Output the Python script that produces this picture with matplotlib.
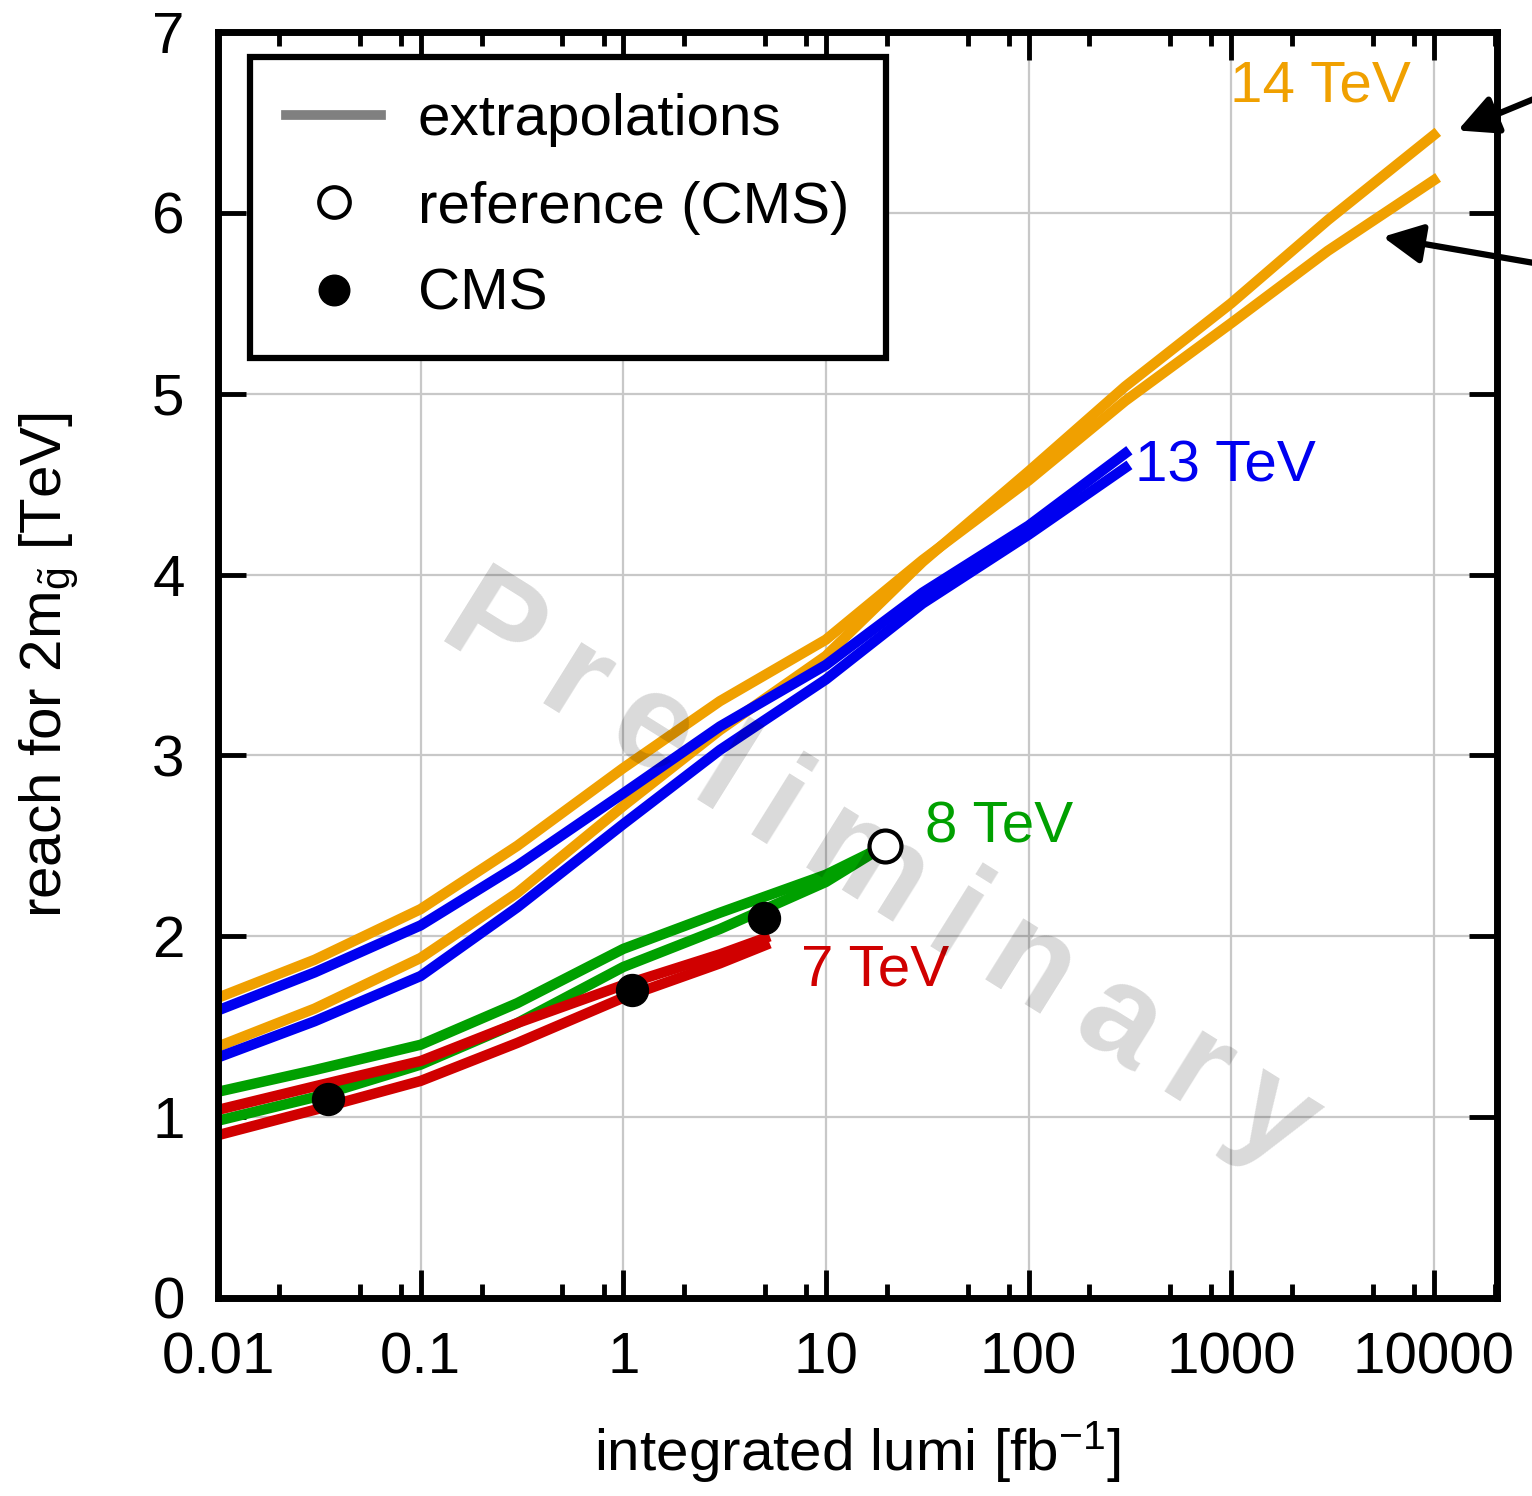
import matplotlib.pyplot as plt
from matplotlib.lines import Line2D

# --- data ---
lumi_14 = [0.01, 0.03, 0.1, 0.3, 1, 3, 10, 30, 100, 300, 1000, 3000, 10000]
reach_14_a = [1.66, 1.87, 2.15, 2.50, 2.93, 3.30, 3.64, 4.08, 4.52, 4.96, 5.39, 5.79, 6.18]
reach_14_b = [1.39, 1.60, 1.88, 2.24, 2.72, 3.14, 3.55, 4.07, 4.57, 5.04, 5.50, 5.96, 6.43]

lumi_13 = [0.01, 0.03, 0.1, 0.3, 1, 3, 10, 30, 100, 300]
reach_13_a = [1.59, 1.80, 2.06, 2.39, 2.79, 3.16, 3.50, 3.90, 4.27, 4.67]
reach_13_b = [1.33, 1.53, 1.78, 2.16, 2.62, 3.03, 3.42, 3.84, 4.22, 4.59]

lumi_8 = [0.01, 0.03, 0.1, 0.3, 1, 3, 10, 19.5]
reach_8_a = [1.14, 1.26, 1.40, 1.63, 1.93, 2.13, 2.34, 2.50]
reach_8_b = [0.98, 1.11, 1.29, 1.52, 1.83, 2.04, 2.30, 2.50]

lumi_7 = [0.01, 0.03, 0.1, 0.3, 1, 3, 5]
reach_7_a = [1.04, 1.17, 1.31, 1.52, 1.73, 1.90, 1.99]
reach_7_b = [0.90, 1.04, 1.20, 1.41, 1.66, 1.85, 1.95]

cms_lumi = [0.035, 1.1, 4.95]
cms_reach = [1.10, 1.70, 2.10]
ref_lumi = [19.5]
ref_reach = [2.50]

plt.rcParams['font.family'] = ['Liberation Sans', 'DejaVu Sans']
plt.rcParams['mathtext.fontset'] = 'custom'
plt.rcParams['mathtext.rm'] = 'Liberation Sans'
plt.rcParams['mathtext.it'] = 'Liberation Sans'

c14, c13, c8, c7 = '#f0a000', '#0000f0', '#00a000', '#d00000'
fs = 42

fig = plt.figure(figsize=(15.32, 14.96), dpi=100)
ax = fig.add_axes([0.1423, 0.1324, 0.8348, 0.8462])

lw = 7.5
ax.plot(lumi_14, reach_14_a, color=c14, lw=lw, zorder=3)
ax.plot(lumi_14, reach_14_b, color=c14, lw=lw, zorder=3)
ax.plot(lumi_13, reach_13_a, color=c13, lw=lw, zorder=4)
ax.plot(lumi_13, reach_13_b, color=c13, lw=lw, zorder=4)
ax.plot(lumi_8, reach_8_a, color=c8, lw=lw, zorder=5)
ax.plot(lumi_8, reach_8_b, color=c8, lw=lw, zorder=5)
ax.plot(lumi_7, reach_7_a, color=c7, lw=lw, zorder=6)
ax.plot(lumi_7, reach_7_b, color=c7, lw=lw, zorder=6)

ax.plot(cms_lumi, cms_reach, 'o', color='black', ms=23, zorder=8)
ax.plot(ref_lumi, ref_reach, 'o', mfc='white', mec='black', mew=3, ms=23, zorder=8)

# energy labels
ax.text(990, 6.70, '14 TeV', color=c14, fontsize=fs, va='center', ha='left')
ax.text(336, 4.60, '13 TeV', color=c13, fontsize=fs, va='center', ha='left')
ax.text(31, 2.60, '8 TeV', color=c8, fontsize=fs, va='center', ha='left')
ax.text(7.5, 1.81, '7 TeV', color=c7, fontsize=fs, va='center', ha='left')

# watermark
ax.text(0.518, 0.336, '\u2009'.join('Preliminary'), transform=ax.transAxes,
        fontsize=97, fontweight='bold', color='black', alpha=0.15,
        family=['Liberation Sans', 'DejaVu Sans'],
        rotation=-32, ha='center', va='center', zorder=7)

# arrows coming in from outside the figure
ax.annotate('', xy=(12760, 6.45), xytext=(66000, 6.78),
            arrowprops=dict(arrowstyle='-|>', lw=4.5, color='black', mutation_scale=60),
            annotation_clip=False)
ax.annotate('', xy=(5430, 5.87), xytext=(66000, 5.66),
            arrowprops=dict(arrowstyle='-|>', lw=4.5, color='black', mutation_scale=60),
            annotation_clip=False)

ax.set_xscale('log')
ax.set_xticks([0.01, 0.1, 1, 10, 100, 1000, 10000])
ax.set_xticklabels(['0.01', '0.1', '1', '10', '100', '1000', '10000'])
ax.set_xticks([m * 10.0 ** e for e in range(-2, 5) for m in (2, 5, 8)], minor=True)
ax.set_xticklabels([], minor=True)
ax.set_yticks(range(8))
ax.set_xlim(0.01, 20500)
ax.set_ylim(0, 7)

ax.tick_params(which='both', direction='in', top=True, right=True)
ax.tick_params(which='major', length=20, width=3.5, labelsize=fs, pad=24)
ax.tick_params(which='minor', length=10, width=3.5)
for s in ax.spines.values():
    s.set_linewidth(5)
    s.set_zorder(10)

ax.grid(True, which='major', color='#c8c8c8', lw=1.6, zorder=0)
ax.set_axisbelow(True)

ax.set_xlabel('integrated lumi [fb$^{-1}$]', fontsize=fs, labelpad=24)
ax.set_ylabel(r'reach for 2$\mathrm{m}_{\tilde{\mathrm{g}}}$ [TeV]', fontsize=fs, labelpad=52)

handles = [
    Line2D([], [], color='#808080', lw=7),
    Line2D([], [], ls='none', marker='o', mfc='white', mec='black', mew=3, ms=22),
    Line2D([], [], ls='none', marker='o', color='black', ms=22),
]
leg = ax.legend(handles, ['extrapolations', 'reference (CMS)', 'CMS'],
                loc='upper left', bbox_to_anchor=(0.025, 0.98), borderaxespad=0,
                fontsize=fs, handlelength=1.63, handletextpad=0.63, labelspacing=0.57,
                borderpad=0.62, fancybox=False, framealpha=1, edgecolor='black')
leg.get_frame().set_linewidth(4.5)
leg.set_zorder(9)

fig.savefig('out.png', dpi=100)
